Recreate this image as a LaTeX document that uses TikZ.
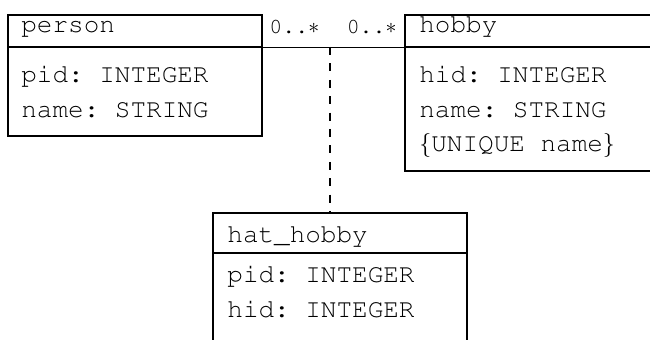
\documentclass[tikz,border=0pt]{standalone}
\usepackage[T1]{fontenc}
\usepackage{courier}
\usetikzlibrary{fit}
\frenchspacing
\begin{document}
\begin{tikzpicture}[x=0.5pt,y=-0.5pt,
  box/.style={draw, line width=0.6pt, inner sep=0pt},
  txt/.style={anchor=base west, inner sep=0pt, font=\ttfamily\frenchspacing\fontsize{13}{16}\selectfont},
  mult/.style={inner sep=0pt, font=\ttfamily\fontsize{10.8}{13}\selectfont},
  conn/.style={line width=0.6pt},
  dconn/.style={line width=0.6pt, dash pattern=on 4pt off 4.2pt}]
\useasboundingbox (0,0) rectangle (650,340);
\clip (0,0) rectangle (650,340);
% person
\node[box, fit={(8,15)(262,47)}] (personhead) {};
\node[box, fit={(8,47)(262,136)}] (personbody) {};
\node[txt] (pname) at (21,33) {person};
\node[txt] (pa1) at (21,83) {pid: INTEGER};
\node[txt] (pa2) at (21,117.5) {name: STRING};
% hobby
\node[box, fit={(405,15)(662,47)}] (hobbyhead) {};
\node[box, fit={(405,47)(662,171)}] (hobbybody) {};
\node[txt] (hname) at (419,33) {hobby};
\node[txt] (ha1) at (419,83) {hid: INTEGER};
\node[txt] (ha2) at (419,117.5) {name: STRING};
\node[txt] (ha3) at (419,152) {$\{$UNIQUE name$\}$};
% hat_hobby
\node[box, fit={(213,213)(467,253)}] (hathead) {};
\node[box, fit={(213,253)(467,352)}] (hatbody) {};
\node[txt] (hhname) at (227,243) {hat\_hobby};
\node[txt] (hha1) at (227,283) {pid: INTEGER};
\node[txt] (hha2) at (227,318) {hid: INTEGER};
% association
\draw[conn] (personhead.south east) -- (hobbyhead.south west);
\node[mult, anchor=base west] (m1) at (269,34) {0..$\ast$};
\node[mult, anchor=base east] (m2) at (397,34) {0..$\ast$};
\coordinate (mid) at (330,47);
\draw[dconn] (mid) -- (mid |- hathead.north);
\end{tikzpicture}
\end{document}
